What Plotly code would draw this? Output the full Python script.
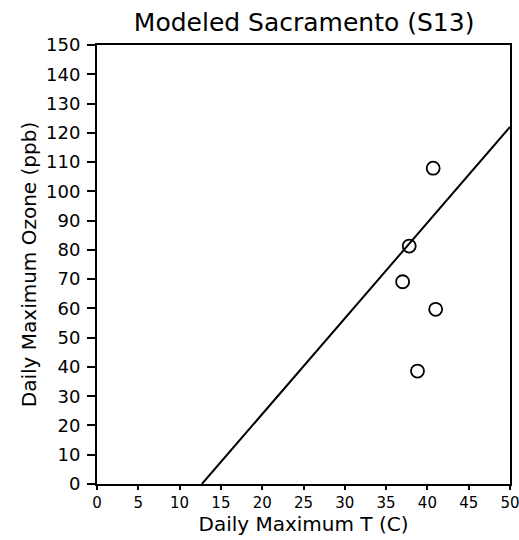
import plotly.graph_objects as go

# Data
temp_c = [40.7, 37.8, 37.0, 41.0, 38.8]
ozone_ppb = [107.9, 81.3, 69.1, 59.7, 38.6]
fit_x = [12.7, 50.0]
fit_y = [0.0, 122.0]
x_ticks = list(range(0, 51, 5))
y_ticks = list(range(0, 151, 10))

fig = go.Figure()
fig.add_trace(go.Scatter(x=fit_x, y=fit_y, mode="lines",
                         line=dict(color="black", width=2), showlegend=False))
fig.add_trace(go.Scatter(x=temp_c, y=ozone_ppb, mode="markers",
                         marker=dict(symbol="circle-open", size=13, color="black",
                                     line=dict(width=1.8, color="black")),
                         showlegend=False))

font = "DejaVu Sans"
fig.update_layout(
    width=519, height=540,
    margin=dict(l=97, r=9, t=45, b=56),
    paper_bgcolor="white", plot_bgcolor="white",
    title=dict(text="Modeled Sacramento (S13)", x=0.586,
               xanchor="center", y=0.958, yanchor="middle",
               font=dict(family=font, size=25, color="black")),
    font=dict(family=font, color="black"),
)
fig.update_xaxes(range=[0, 50], tickvals=x_ticks, ticks="outside", ticklen=4,
                 tickcolor="black", tickwidth=1.5, automargin=False,
                 ticklabeloverflow="allow",
                 showline=True, linecolor="black", linewidth=2, mirror=True,
                 showgrid=False, zeroline=False,
                 tickfont=dict(family=font, size=15),
                 title=dict(text="Daily Maximum T (C)", font=dict(family=font, size=20),
                            standoff=2))
fig.update_yaxes(range=[0, 150], tickvals=y_ticks, ticks="outside", ticklen=8,
                 tickcolor="black", tickwidth=1.5, automargin=False,
                 ticklabelstandoff=3, ticklabeloverflow="allow",
                 showline=True, linecolor="black", linewidth=2, mirror=True,
                 showgrid=False, zeroline=False,
                 tickfont=dict(family=font, size=18),
                 title=dict(text="Daily Maximum Ozone (ppb)", font=dict(family=font, size=20),
                            standoff=4))

fig.write_html("out.html")
